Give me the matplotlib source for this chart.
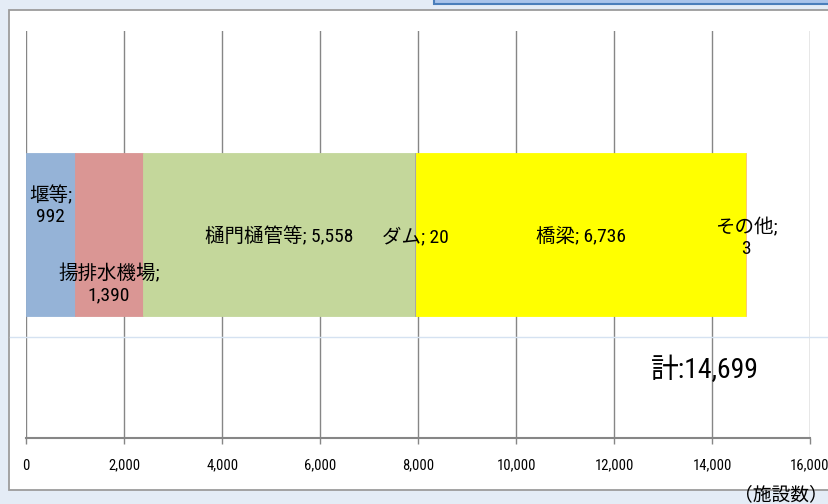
import matplotlib
matplotlib.use("Agg")
import matplotlib.pyplot as plt
from matplotlib import font_manager
from matplotlib.patches import Rectangle
from matplotlib.lines import Line2D
from matplotlib.ticker import FuncFormatter

categories = ["堰等", "揚排水機場", "樋門樋管等", "ダム", "橋梁", "その他"]
values = [992, 1390, 5558, 20, 6736, 3]
total_label = "計:14,699"
xticks = [0, 2000, 4000, 6000, 8000, 10000, 12000, 14000, 16000]
unit_label = "（施設数）"

colors = ["#95B3D7", "#DA9694", "#C4D79B", "#A6A6A6", "#FFFF00", "#FABF8F"]

# pick a narrow latin font if one is installed
names = {f.name for f in font_manager.fontManager.ttflist}
narrow = None
for cand in ["Liberation Sans Narrow", "Roboto Condensed", "Open Sans Condensed",
             "DejaVu Sans Condensed", "Noto Sans Condensed", "Arial Narrow"]:
    if cand in names:
        narrow = cand
        break
if narrow is None:
    for n in sorted(names):
        if "Narrow" in n or "Condensed" in n:
            narrow = n
            break
FAM = ([narrow] if narrow else []) + ["Noto Sans CJK JP", "DejaVu Sans"]
plt.rcParams["font.family"] = FAM

W, H = 829, 504
fig = plt.figure(figsize=(W / 100, H / 100), dpi=100)
fig.patch.set_facecolor("#E4ECF6")

def fx(px):
    return px / W

def fy(py):
    return 1 - py / H

panel = Rectangle((fx(9), fy(490)), 1.2, fy(10) - fy(490), transform=fig.transFigure,
                  facecolor="white", edgecolor="#9C9C9C", linewidth=1.3, zorder=0)
fig.add_artist(panel)
box = Rectangle((fx(434), fy(4)), 1.0, 0.05, transform=fig.transFigure,
                facecolor="#A9C4EB", edgecolor="#4A7EBB", linewidth=1.5, zorder=1)
fig.add_artist(box)
fig.add_artist(Line2D([fx(10), 1.0], [fy(337), fy(337)], transform=fig.transFigure,
                      color="#D5E2F1", linewidth=1.0, zorder=1))

ax = fig.add_axes([fx(26.3), fy(437.7), fx(810) - fx(26.3), fy(31) - fy(437.7)])
ax.set_facecolor("none")
ax.set_xlim(0, 16000)
ax.set_ylim(-0.5, 0.5)

left = 0
segs = []
for cat, v, c in zip(categories, values, colors):
    ax.barh(0, v, left=left, height=0.4, color=c, edgecolor=c, linewidth=0.6, zorder=2)
    segs.append((cat, v, left + v / 2))
    left += v

ax.set_xticks(xticks)
ax.xaxis.set_major_formatter(FuncFormatter(lambda x, p: f"{int(x):,}"))
ax.grid(axis="x", color="#868686", linewidth=1.0, zorder=1)
ax.set_axisbelow(True)
ax.set_yticks([])
for s in ["top", "right", "left"]:
    ax.spines[s].set_visible(False)
ax.spines["bottom"].set_color("#868686")
ax.spines["bottom"].set_linewidth(1.5)
ax.tick_params(axis="x", length=4.5, width=1, color="#868686", pad=10.5, labelsize=10.5)

def ylab(py):
    return -0.5 + (437.7 - py) / (437.7 - 31)

fs = 14
label_pos = {
    "堰等": ylab(206),
    "揚排水機場": ylab(284),
    "樋門樋管等": ylab(237),
    "ダム": ylab(237),
    "橋梁": ylab(237),
    "その他": ylab(238),
}
two_line = {"堰等", "揚排水機場", "その他"}
for cat, v, cx in segs:
    if cat in two_line:
        txt = f"{cat};\n{v:,}"
    else:
        txt = f"{cat}; {v:,}"
    ax.text(cx, label_pos[cat], txt, ha="center", va="center", fontsize=fs,
            linespacing=1.2, zorder=5)

ax.text((705 - 26.3) / (810 - 26.3) * 16000, ylab(370), total_label,
        ha="center", va="center", fontsize=20, zorder=5)

fig.text(fx(781), fy(495), unit_label, ha="center", va="center", fontsize=13.5)

fig.savefig("out.png", dpi=100, facecolor=fig.get_facecolor())
